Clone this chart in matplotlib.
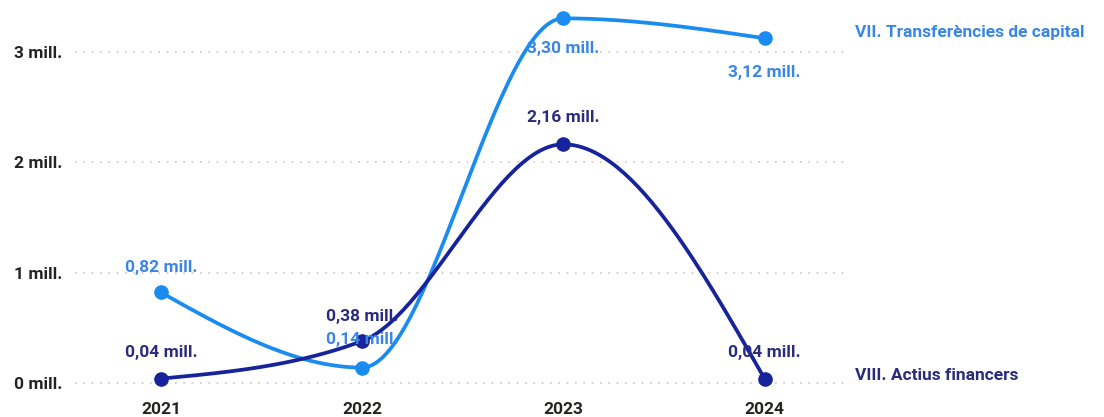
import matplotlib
matplotlib.use("Agg")
import matplotlib.pyplot as plt
import numpy as np

years = [2021, 2022, 2023, 2024]
transferencies = [0.82, 0.14, 3.30, 3.12]
actius = [0.04, 0.38, 2.16, 0.04]
series_names = ["VII. Transferències de capital", "VIII. Actius financers"]
ytick_vals = [0, 1, 2, 3]

LIGHT = "#1A8CF0"
DARK = "#17239A"
LIGHT_TXT = "#3A86E6"
DARK_TXT = "#2B2B7E"
AXIS_TXT = "#252423"
FS = 12.5

plt.rcParams["font.family"] = ["Roboto", "DejaVu Sans"]


def smooth(x, y, n=60):
    # monotone-x cubic through the points (draw style only, like d3.curveMonotoneX)
    x = np.asarray(x, float)
    y = np.asarray(y, float)
    k = len(x)
    h = np.diff(x)
    s = np.diff(y) / h
    t = np.zeros(k)
    for i in range(1, k - 1):
        p = (s[i - 1] * h[i] + s[i] * h[i - 1]) / (h[i - 1] + h[i])
        t[i] = (np.sign(s[i - 1]) + np.sign(s[i])) * min(abs(s[i - 1]), abs(s[i]), 0.5 * abs(p))
    t[0] = (3 * s[0] - t[1]) / 2
    t[-1] = (3 * s[-1] - t[-2]) / 2
    u = np.linspace(0, 1, n)
    xs, ys = [], []
    for i in range(k - 1):
        dx = h[i] / 3
        bx = [x[i], x[i] + dx, x[i + 1] - dx, x[i + 1]]
        by = [y[i], y[i] + dx * t[i], y[i + 1] - dx * t[i + 1], y[i + 1]]
        c = [(1 - u) ** 3, 3 * (1 - u) ** 2 * u, 3 * (1 - u) * u ** 2, u ** 3]
        xs.extend(sum(ci * b for ci, b in zip(c, bx)))
        ys.extend(sum(ci * b for ci, b in zip(c, by)))
    return np.array(xs), np.array(ys)


def fmt(v):
    return f"{v:.2f}".replace(".", ",") + " mill."


fig = plt.figure(figsize=(11.04, 4.17), dpi=100)
ax = fig.add_axes([0.0679, 0.0417, 0.6975, 0.9408])
ax.set_xlim(2020.573, 2024.40)
ax.set_ylim(-0.15, 3.4)

for v in ytick_vals:
    ax.axhline(v, color="#C8C8C8", linestyle=(0, (1, 4)), linewidth=1.2, zorder=0)

for vals, col in ((transferencies, LIGHT), (actius, DARK)):
    sx, sy = smooth(years, vals)
    ax.plot(sx, sy, color=col, linewidth=2.7, solid_capstyle="round", clip_on=False, zorder=2)
    ax.plot(years, vals, "o", color=col, markersize=9.5, clip_on=False, zorder=3)

# data labels
light_off = [18, 20, -22, -25]
dark_off = [19, 18, 19, 19]
for x, v, o in zip(years, transferencies, light_off):
    ax.annotate(fmt(v), (x, v), xytext=(0, o), textcoords="offset points",
                ha="center", va="center", color=LIGHT_TXT, fontsize=FS, fontweight="bold", zorder=4)
for x, v, o in zip(years, actius, dark_off):
    ax.annotate(fmt(v), (x, v), xytext=(0, o), textcoords="offset points",
                ha="center", va="center", color=DARK_TXT, fontsize=FS, fontweight="bold", zorder=4)

# series names at the right
fig.text(855 / 1104, 1 - 32 / 417, series_names[0], color=LIGHT_TXT, fontsize=FS,
         fontweight="bold", ha="left", va="center")
fig.text(855 / 1104, 1 - 375 / 417, series_names[1], color=DARK_TXT, fontsize=FS,
         fontweight="bold", ha="left", va="center")

ax.set_xticks(years)
ax.set_xticklabels([str(y) for y in years], fontsize=FS, fontweight="bold", color=AXIS_TXT)
ax.set_yticks(ytick_vals)
ax.set_yticklabels([f"{v} mill." for v in ytick_vals], fontsize=FS, fontweight="bold", color=AXIS_TXT)
ax.tick_params(axis="x", length=0, pad=2)
ax.tick_params(axis="y", length=0, pad=9)
for s in ax.spines.values():
    s.set_visible(False)

fig.savefig("out.png", dpi=100)
